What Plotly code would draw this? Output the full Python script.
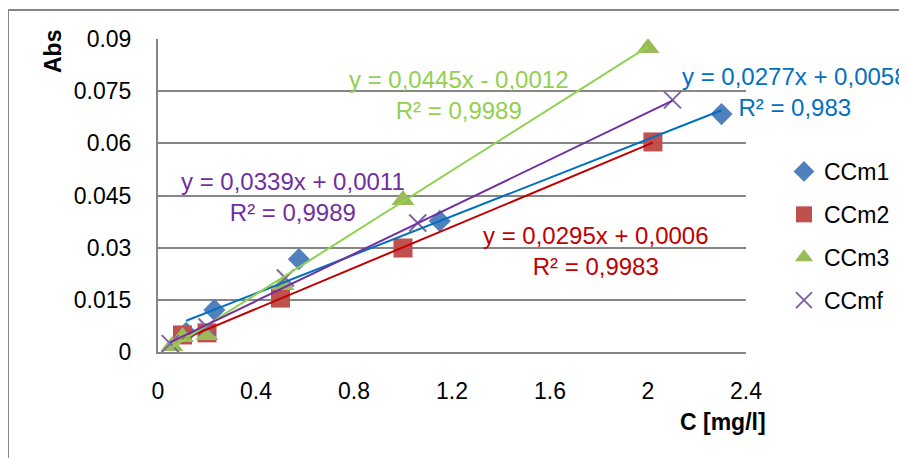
import plotly.graph_objects as go

# ---- data ----
series_names = ["CCm1", "CCm2", "CCm3", "CCmf"]
ccm1_x = [0.115, 0.23, 0.575, 1.15, 2.3]
ccm1_y = [0.0055, 0.0121, 0.0267, 0.0377, 0.0684]
ccm2_x = [0.1, 0.2, 0.5, 1.0, 2.02]
ccm2_y = [0.0049, 0.0055, 0.0155, 0.0299, 0.0604]
ccm3_x = [0.057, 0.1, 0.2, 0.51, 1.0, 2.0]
ccm3_y = [0.0017, 0.0043, 0.0049, 0.0193, 0.0437, 0.0874]
ccmf_x = [0.05, 0.2, 0.52, 1.06, 2.1]
ccmf_y = [0.0024, 0.0072, 0.0213, 0.0371, 0.0725]

slopes = [0.0277, 0.0295, 0.0445, 0.0339]
intercepts = [0.0058, 0.0006, -0.0012, 0.0011]
eq_texts = [
    "y = 0,0277x + 0,0058<br>R² = 0,983",
    "y = 0,0295x + 0,0006<br>R² = 0,9983",
    "y = 0,0445x - 0,0012<br>R² = 0,9989",
    "y = 0,0339x + 0,0011<br>R² = 0,9989",
]

x_tickvals = [0, 0.4, 0.8, 1.2, 1.6, 2.0, 2.4]
x_ticktext = ["0", "0.4", "0.8", "1.2", "1.6", "2", "2.4"]
y_tickvals = [0, 0.015, 0.03, 0.045, 0.06, 0.075, 0.09]
y_ticktext = ["0", "0.015", "0.03", "0.045", "0.06", "0.075", "0.09"]

# ---- styles ----
W, H = 907, 458
OFF = 8  # page body margin
PL, PR, PT, PB = 158 - OFF, 746 - OFF, 39 - OFF, 352 - OFF
FONT = "Arial, Liberation Sans, sans-serif"
marker_colors = ["#4F81BD", "#C0504D", "#9BBB59", "#8064A2"]
line_colors = ["#0070C0", "#C00000", "#92D050", "#7030A0"]
symbols = ["diamond", "square", "triangle-up", "x-thin"]
sizes = [17, 19, 20, 17]
label_pos = [(795, 92), (596, 251), (459, 95), (293, 197)]  # pixel centres (reference)


def px_to_paper(px, py):
    px -= OFF
    py -= OFF
    return (px - PL) / (PR - PL), (PB - py) / (PB - PT)


xs = [ccm1_x, ccm2_x, ccm3_x, ccmf_x]
ys = [ccm1_y, ccm2_y, ccm3_y, ccmf_y]

fig = go.Figure()
for i, name in enumerate(series_names):
    mk = dict(symbol=symbols[i], size=sizes[i], color=marker_colors[i])
    if symbols[i] == "x-thin":
        mk["line"] = dict(color=marker_colors[i], width=2)
    fig.add_trace(go.Scatter(x=xs[i], y=ys[i], mode="markers", name=name,
                             marker=mk, legendgroup=name))

for i in range(4):
    x0, x1 = min(xs[i]), max(xs[i])
    fig.add_trace(go.Scatter(x=[x0, x1],
                             y=[slopes[i] * x0 + intercepts[i], slopes[i] * x1 + intercepts[i]],
                             mode="lines", line=dict(color=line_colors[i], width=2),
                             showlegend=False, hoverinfo="skip"))

annotations = []
for i in range(4):
    ax, ay = px_to_paper(*label_pos[i])
    annotations.append(dict(x=ax, y=ay, xref="paper", yref="paper", text=eq_texts[i],
                            showarrow=False, align="center", xanchor="center", yanchor="middle",
                            font=dict(family=FONT, size=24, color=line_colors[i])))

# axis titles
tx, ty = px_to_paper(53, 52)
annotations.append(dict(x=tx, y=ty, xref="paper", yref="paper", text="<b>Abs</b>",
                        showarrow=False, textangle=-90, xanchor="center", yanchor="middle",
                        font=dict(family=FONT, size=23, color="black")))
tx, ty = px_to_paper(723, 422)
annotations.append(dict(x=tx, y=ty, xref="paper", yref="paper", text="<b>C [mg/l]</b>",
                        showarrow=False, xanchor="center", yanchor="middle",
                        font=dict(family=FONT, size=23, color="black")))

bx0, by0 = px_to_paper(8, 475)
bx1, by1 = px_to_paper(905, 10)
lx, ly = px_to_paper(784, 150)

fig.update_layout(
    width=W, height=H,
    margin=dict(l=PL, r=W - PR, t=PT, b=H - PB, pad=0, autoexpand=False),
    paper_bgcolor="white", plot_bgcolor="white",
    font=dict(family=FONT, size=23, color="black"),
    showlegend=True,
    legend=dict(x=lx, y=ly, xanchor="left", yanchor="top", xref="paper", yref="paper",
                font=dict(family=FONT, size=23), tracegroupgap=10, itemwidth=30,
                bgcolor="rgba(0,0,0,0)"),
    annotations=annotations,
    shapes=[dict(type="rect", xref="paper", yref="paper", x0=bx0, y0=by0, x1=bx1, y1=by1,
                 line=dict(color="#868686", width=2), layer="below")],
    xaxis=dict(range=[0, 2.4], tickvals=x_tickvals, ticktext=x_ticktext, showgrid=False,
               zeroline=False, showline=True, linecolor="#868686", linewidth=2,
               ticks="", ticklabelstandoff=17, tickfont=dict(size=23), automargin=False),
    yaxis=dict(range=[0, 0.09], tickvals=y_tickvals, ticktext=y_ticktext, showgrid=True,
               gridcolor="#868686", gridwidth=2, zeroline=False, showline=True,
               linecolor="#868686", linewidth=2, ticks="", ticklabelstandoff=20,
               tickfont=dict(size=23), automargin=False),
)

fig.write_html("out.html")
